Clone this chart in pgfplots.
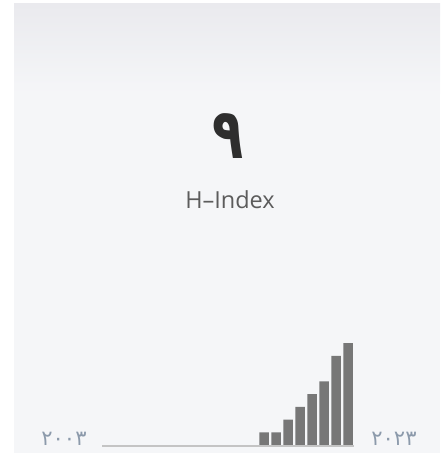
\documentclass[border=0pt]{standalone}
\usepackage{pgfplots}
\pgfplotsset{compat=1.18}
\usepackage{fontspec}
\setmainfont{Open Sans}
\newfontfamily\fa[Script=Arabic]{DejaVu Sans}
\definecolor{cardtop}{HTML}{EAEAEE}
\definecolor{cardbg}{HTML}{F5F6F8}
\definecolor{numc}{HTML}{2E2E2E}
\definecolor{labc}{HTML}{5C5C5C}
\definecolor{yearc}{HTML}{8C9AAB}
\definecolor{linec}{HTML}{C4C4C4}
\definecolor{barc}{HTML}{777777}
\begin{document}
\begin{tikzpicture}[x=1pt,y=1pt]
\useasboundingbox (0,0) rectangle (440,463);
\fill[white] (0,0) rectangle (440,463);
\fill[cardbg] (14,10) rectangle (440,369);
\shade[top color=cardtop,bottom color=cardbg] (14,369) rectangle (440,459);
\node[text=numc] at (228,327) {\scalebox{0.85}[1.17]{\fa\bfseries\fontsize{60}{60}\selectfont ۹}};
\node[font=\fontsize{23.5}{23.5}\selectfont, text=labc] at (230,263) {H–Index};
\node[font=\fa\fontsize{21}{21}\selectfont, text=yearc] at (64,24) {۲۰۰۳};
\node[font=\fa\fontsize{21}{21}\selectfont, text=yearc] at (394,24) {۲۰۲۳};
\draw[linec, line width=2pt] (102,17) -- (354,17);
\begin{axis}[at={(102pt,18pt)}, anchor=south west, scale only axis,
  width=252pt, height=102pt, xmin=2002.5, xmax=2023.5, ymin=0, ymax=8,
  hide axis, ybar, bar width=9.5pt, clip=false]
\addplot[fill=barc, draw=none] coordinates {(2016,1) (2017,1) (2018,2) (2019,3) (2020,4) (2021,5) (2022,7) (2023,8)};
\end{axis}
\end{tikzpicture}
\end{document}
